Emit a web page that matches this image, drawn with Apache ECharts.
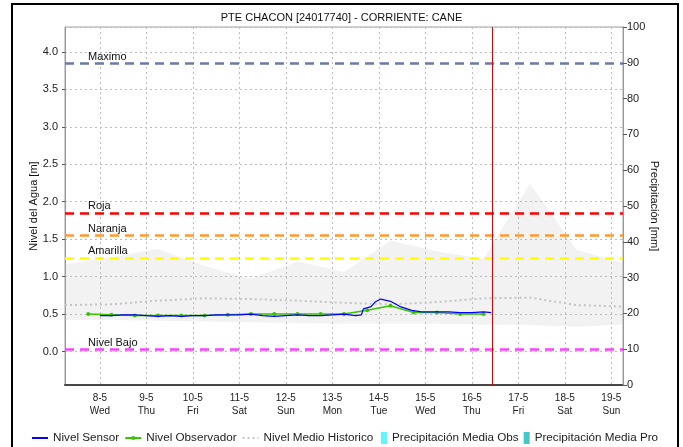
<!DOCTYPE html>
<html>
<head>
<meta charset="utf-8">
<title>PTE CHACON</title>
<script src="https://cdn.jsdelivr.net/npm/echarts@6/dist/echarts.min.js"></script>
<style>
  html, body { margin: 0; padding: 0; background: #fff; }
  #chart { width: 683px; height: 447px; }
</style>
</head>
<body>
<div id="chart"></div>
<script>
// Nivel Sensor (m)
const sensorTimes = [
  '2024-05-08 00:00', '2024-05-08 06:00', '2024-05-08 12:00', '2024-05-08 18:00',
  '2024-05-09 00:00', '2024-05-09 06:00', '2024-05-09 12:00', '2024-05-09 18:00',
  '2024-05-10 00:00', '2024-05-10 06:00', '2024-05-10 12:00', '2024-05-10 18:00',
  '2024-05-11 00:00', '2024-05-11 06:00', '2024-05-11 12:00', '2024-05-11 18:00',
  '2024-05-12 00:00', '2024-05-12 06:00', '2024-05-12 12:00', '2024-05-12 18:00',
  '2024-05-13 00:00', '2024-05-13 06:00', '2024-05-13 12:00', '2024-05-13 15:00',
  '2024-05-13 16:00', '2024-05-13 20:00', '2024-05-13 22:00', '2024-05-14 01:00',
  '2024-05-14 06:00', '2024-05-14 11:00', '2024-05-14 17:00', '2024-05-14 22:00',
  '2024-05-15 06:00', '2024-05-15 12:00', '2024-05-15 18:00', '2024-05-16 00:00',
  '2024-05-16 06:00', '2024-05-16 10:00'
]
const sensorValues = [
  0.48, 0.48, 0.49, 0.49,
  0.48, 0.47, 0.48, 0.47,
  0.48, 0.48, 0.49, 0.49,
  0.49, 0.50, 0.48, 0.47,
  0.48, 0.49, 0.48, 0.48,
  0.49, 0.50, 0.48, 0.49,
  0.57, 0.60, 0.66, 0.70,
  0.67, 0.60, 0.55, 0.53,
  0.53, 0.53, 0.52, 0.52,
  0.53, 0.52
]
// Nivel Observador (m), lecturas 06:00 y 18:00
const obsTimes = [
  '2024-05-07 18:00', '2024-05-08 06:00', '2024-05-08 18:00', '2024-05-09 06:00',
  '2024-05-09 18:00', '2024-05-10 06:00', '2024-05-10 18:00', '2024-05-11 06:00',
  '2024-05-11 18:00', '2024-05-12 06:00', '2024-05-12 18:00', '2024-05-13 06:00',
  '2024-05-13 18:00', '2024-05-14 06:00', '2024-05-14 18:00', '2024-05-15 06:00',
  '2024-05-15 18:00', '2024-05-16 06:00'
]
const obsValues = [
  0.50, 0.49, 0.48, 0.48,
  0.48, 0.48, 0.49, 0.50,
  0.50, 0.50, 0.50, 0.50,
  0.55, 0.61, 0.52, 0.52,
  0.50, 0.50
]
// Historicos diarios (m)
const histTimes = [
  '2024-05-07 06:00', '2024-05-08 06:00', '2024-05-09 06:00', '2024-05-10 06:00',
  '2024-05-11 06:00', '2024-05-12 06:00', '2024-05-13 06:00', '2024-05-14 06:00',
  '2024-05-15 06:00', '2024-05-16 06:00', '2024-05-17 06:00', '2024-05-18 06:00',
  '2024-05-19 06:00'
]
const histMedio = [0.62, 0.63, 0.68, 0.71, 0.70, 0.68, 0.65, 0.63, 0.66, 0.71, 0.72, 0.62, 0.60]
const histMax = [1.16, 1.26, 1.37, 1.14, 0.97, 1.20, 1.06, 1.48, 1.34, 1.24, 2.24, 1.36, 1.18]
const histMin = [0.42, 0.42, 0.41, 0.40, 0.39, 0.38, 0.37, 0.37, 0.37, 0.36, 0.35, 0.33, 0.36]
// Precipitacion (mm) - sin datos
const precipObs = []
const precipPro = []
// Umbrales (m)
const thresholdNames = ['Maximo', 'Roja', 'Naranja', 'Amarilla', 'Nivel Bajo']
const thresholdValues = [3.85, 1.85, 1.55, 1.25, 0.03]
const thresholdColors = ['#6c7aa6', '#ff0000', '#ff9a2e', '#ffff00', '#ff40ff']
const nowTime = '2024-05-16 10:30'
const weekDays = ['Sun', 'Mon', 'Tue', 'Wed', 'Thu', 'Fri', 'Sat']

const font = 'Liberation Sans, Arial, sans-serif'
const t = (s) => new Date(s.replace(' ', 'T') + ':00').getTime()
const zip = (xs, ys) => xs.map((x, i) => [t(x), ys[i]])
const bandDiff = histMax.map((v, i) => +(v - histMin[i]).toFixed(3))
const xMin = t('2024-05-07 06:00')
const xMax = t('2024-05-19 06:00')

const chart = echarts.init(document.getElementById('chart'))
const legendText = { fontSize: 11.7, color: '#222', fontFamily: font }
const options = {
  animation: false,
  textStyle: { fontFamily: font },
  title: {
    text: 'PTE CHACON [24017740] - CORRIENTE: CANE',
    left: 'center',
    top: 7,
    textStyle: { fontSize: 11, fontWeight: 'normal', color: '#111', fontFamily: font },
  },
  graphic: [
    {
      type: 'rect',
      shape: { x: 12, y: 4, width: 666, height: 470 },
      style: { fill: 'none', stroke: '#000', lineWidth: 2 },
      silent: true,
    },
  ],
  // leyenda de lineas
  legend: [
    {
      left: 26,
      top: 427,
      itemWidth: 16,
      itemHeight: 5,
      itemGap: 5,
      textStyle: legendText,
      data: [
        { name: 'Nivel Sensor', itemStyle: { opacity: 0 } },
        { name: 'Nivel Observador' },
        { name: 'Nivel Medio Historico', itemStyle: { opacity: 0 } },
      ],
    },
    {
      left: 376,
      top: 427,
      itemWidth: 6,
      itemHeight: 12,
      itemGap: 5,
      icon: 'rect',
      textStyle: legendText,
      data: ['Precipitación Media Obs', 'Precipitación Media Pro'],
    },
  ],
  grid: {
    left: 65,
    right: 60,
    top: 27,
    bottom: 62,
    show: true,
    borderColor: '#a0a0a0',
    borderWidth: 1,
  },
  xAxis: [
    {
      type: 'time',
      min: xMin,
      max: xMax,
      splitNumber: 12,
      axisLine: { onZero: false, lineStyle: { color: '#444', type: [1, 1], width: 2 } },
      axisTick: { show: false },
      axisLabel: {
        interval: 0,
        fontSize: 10,
        lineHeight: 13,
        color: '#222',
        margin: 7,
        hideOverlap: false,
        showMinLabel: false,
        showMaxLabel: false,
        formatter: (value) => {
          const d = new Date(value)
          if (d.getHours() !== 0 || d.getMinutes() !== 0) return ''
          return d.getDate() + '-' + (d.getMonth() + 1) + '\n' + weekDays[d.getDay()]
        },
      },
      splitLine: { show: true, lineStyle: { color: '#bdbdbd', type: [2, 3], width: 1 } },
    },
    {
      // eje oculto para la precipitacion
      type: 'time',
      min: xMin,
      max: xMax,
      show: false,
    },
  ],
  yAxis: [
    {
      type: 'value',
      min: -0.447,
      max: 4.332,
      splitNumber: 9,
      minInterval: 0.5,
      maxInterval: 0.5,
      name: 'Nivel del Agua [m]',
      nameLocation: 'middle',
      nameRotate: 90,
      nameGap: 26,
      nameMoveOverlap: false,
      nameTextStyle: { fontSize: 11, color: '#111', fontFamily: font },
      axisLine: { show: true, lineStyle: { color: '#999' } },
      axisTick: { show: true, length: 3, lineStyle: { color: '#555' } },
      axisLabel: {
        fontSize: 11,
        color: '#222',
        margin: 7,
        showMinLabel: false,
        showMaxLabel: false,
        formatter: (v) => (Math.abs(v * 2 - Math.round(v * 2)) > 1e-6 ? '' : v.toFixed(1)),
      },
      splitLine: { show: true, lineStyle: { color: '#bdbdbd', type: [2, 3], width: 1 } },
    },
    {
      type: 'value',
      min: 0,
      max: 100,
      interval: 10,
      position: 'right',
      name: 'Precipitación [mm]',
      nameLocation: 'middle',
      nameRotate: -90,
      nameGap: 26,
      nameMoveOverlap: false,
      nameTextStyle: { fontSize: 11, color: '#111', fontFamily: font },
      axisLine: { show: true, lineStyle: { color: '#999' } },
      axisTick: { show: true, length: 4, lineStyle: { color: '#555' } },
      axisLabel: { fontSize: 11, color: '#222', margin: 4 },
      splitLine: { show: false },
    },
  ],
  series: [
    // banda historica (min - max)
    {
      name: 'hist-min',
      type: 'line',
      stack: 'band',
      symbol: 'none',
      silent: true,
      lineStyle: { opacity: 0 },
      data: zip(histTimes, histMin),
      z: 1,
    },
    {
      name: 'hist-band',
      type: 'line',
      stack: 'band',
      symbol: 'none',
      silent: true,
      lineStyle: { opacity: 0 },
      areaStyle: { color: 'rgba(185,185,185,0.26)' },
      data: zip(histTimes, bandDiff),
      z: 1,
    },
    {
      name: 'Nivel Medio Historico',
      type: 'line',
      symbol: 'none',
      color: '#c4c4c4',
      lineStyle: { color: '#c4c4c4', width: 2, type: [2, 3] },
      data: zip(histTimes, histMedio),
      z: 3,
    },
    {
      name: 'Precipitación Media Obs',
      type: 'bar',
      xAxisIndex: 1,
      yAxisIndex: 1,
      color: '#5ff6ff',
      data: precipObs,
    },
    {
      name: 'Precipitación Media Pro',
      type: 'bar',
      xAxisIndex: 1,
      yAxisIndex: 1,
      color: '#45c7c7',
      data: precipPro,
    },
    // umbrales y linea de hora actual
    {
      name: 'umbrales',
      type: 'line',
      data: [],
      z: 4,
      markLine: {
        silent: true,
        symbol: 'none',
        animation: false,
        data: thresholdValues
          .map((v, i) => ({
            yAxis: v,
            lineStyle: { color: thresholdColors[i], type: [9, 6], width: 2.5 },
            label: {
              show: true,
              formatter: thresholdNames[i],
              position: 'insideStartTop',
              distance: [23, 1],
              fontSize: 11,
              color: '#111',
              fontFamily: font,
            },
          }))
          .concat([
            {
              xAxis: t(nowTime),
              lineStyle: { color: '#e00000', type: 'solid', width: 1 },
              label: { show: false },
            },
          ]),
      },
    },
    {
      name: 'Nivel Observador',
      type: 'line',
      color: '#39c400',
      symbol: 'circle',
      symbolSize: 4,
      lineStyle: { color: '#39c400', width: 1.5 },
      itemStyle: { color: '#39c400' },
      data: zip(obsTimes, obsValues),
      z: 5,
    },
    {
      name: 'Nivel Sensor',
      type: 'line',
      color: '#0000ff',
      symbol: 'none',
      lineStyle: { color: '#0000ff', width: 1.2 },
      data: zip(sensorTimes, sensorValues),
      z: 6,
    },
  ],
}
chart.setOption(options)
window.addEventListener('resize', () => {
  chart.resize()
})
</script>
</body>
</html>
